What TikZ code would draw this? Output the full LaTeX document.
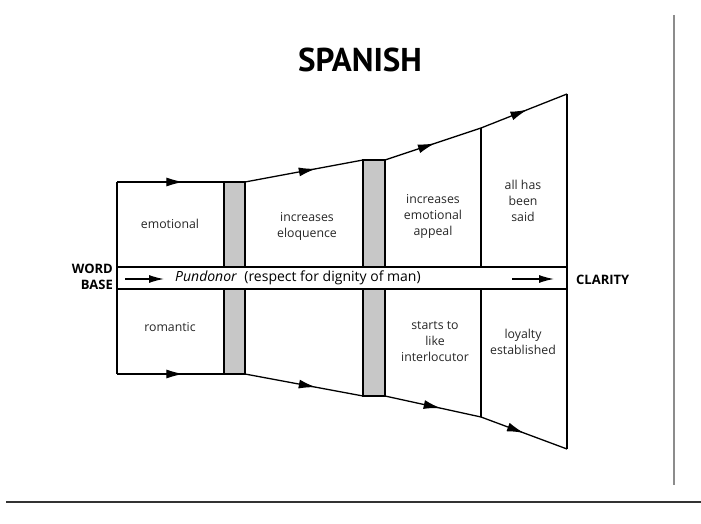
\documentclass[tikz,border=0pt]{standalone}
\usepackage{fontspec}
\setmainfont{Open Sans}
\newfontfamily\titlefont{PT Sans}
\usetikzlibrary{arrows.meta,decorations.markings}
\begin{document}
\begin{tikzpicture}[x=1pt,y=-1pt,
  outline/.style={line width=1.3pt,black},
  arrowmid/.style={postaction={decorate,decoration={markings,mark=at position #1 with {\arrow{Latex[length=17pt,width=9pt]}}}}},
  bar/.style={fill=black!22,draw=black,line width=1.3pt},
  lbl/.style={font=\fontsize{12.3}{16}\selectfont,align=center,inner sep=0pt,text=black!85},
  bandtext/.style={font=\fontsize{14}{16}\selectfont,inner sep=0pt,text=black},
  bold/.style={font=\fontsize{13}{16}\selectfont\bfseries,align=center,inner sep=0pt}]
\useasboundingbox (0,0) rectangle (701,524);
% frame lines of the page
\coordinate (r1) at (674,15);
\coordinate (r2) at (674,485);
\coordinate (f1) at (6,502);
\coordinate (f2) at (701,502);
\draw[black!45,line width=1.2pt] (r1) -- (r2);
\draw[black!80,line width=1.6pt] (f1) -- (f2);
% shape vertices
\coordinate (A1) at (117,182); \coordinate (A2) at (224,182);
\coordinate (B1) at (245,182); \coordinate (C1) at (363,160);
\coordinate (C2) at (385,160); \coordinate (D1) at (481,128);
\coordinate (E1) at (567,94);
\coordinate (a1) at (117,374); \coordinate (a2) at (224,374);
\coordinate (b1) at (245,374); \coordinate (c1) at (363,396);
\coordinate (c2) at (385,396); \coordinate (d1) at (481,417);
\coordinate (e1) at (567,449);
% gray bars
\draw[bar] (A2) rectangle (b1);
\draw[bar] (C1) rectangle (c2);
% outline segments
\draw[outline,arrowmid=0.62] (A1) -- (A2);
\draw[outline,arrowmid=0.62] (a1) -- (a2);
\draw[outline,arrowmid=0.6] (B1) -- (C1);
\draw[outline,arrowmid=0.6] (b1) -- (c1);
\draw[outline,arrowmid=0.52] (C2) -- (D1);
\draw[outline,arrowmid=0.58] (c2) -- (d1);
\draw[outline,arrowmid=0.54] (D1) -- (E1);
\draw[outline,arrowmid=0.5] (d1) -- (e1);
\draw[outline] (A1) -- (a1);
\draw[outline] (D1) -- (d1);
\draw[outline] (E1) -- (e1);
% band
\coordinate (g1) at (117,267); \coordinate (g2) at (567,289);
\draw[outline,fill=white] (g1) rectangle (g2);
\coordinate (p1) at (125,279); \coordinate (p2) at (164,279);
\coordinate (q1) at (512,279); \coordinate (q2) at (554,279);
\draw[line width=1.3pt,-{Latex[length=15pt,width=8pt]}] (p1) -- (p2);
\draw[line width=1.3pt,-{Latex[length=15pt,width=8pt]}] (q1) -- (q2);
\node[bandtext,anchor=west] (pund) at (175,278) {\textit{Pundonor}\ \ (respect for dignity of man)};
% labels
\node[bold,align=right,anchor=east] (word) at (113,277) {WORD\\BASE};
\node[bold,anchor=west] (clar) at (576,280) {CLARITY};
\node[font=\titlefont\fontsize{33}{33}\selectfont\bfseries,inner sep=0pt] (title) at (360,60) {SPANISH};
\node[lbl] (emo) at (170,224) {emotional};
\node[lbl] (rom) at (170,327) {romantic};
\node[lbl] (inc) at (307,226) {increases\\eloquence};
\node[lbl] (app) at (433,216) {increases\\emotional\\appeal};
\node[lbl] (all) at (523,201) {all has\\been\\said};
\node[lbl] (sta) at (435,342) {starts to\\like\\interlocutor};
\node[lbl] (loy) at (523,342) {loyalty\\established};
\end{tikzpicture}
\end{document}
